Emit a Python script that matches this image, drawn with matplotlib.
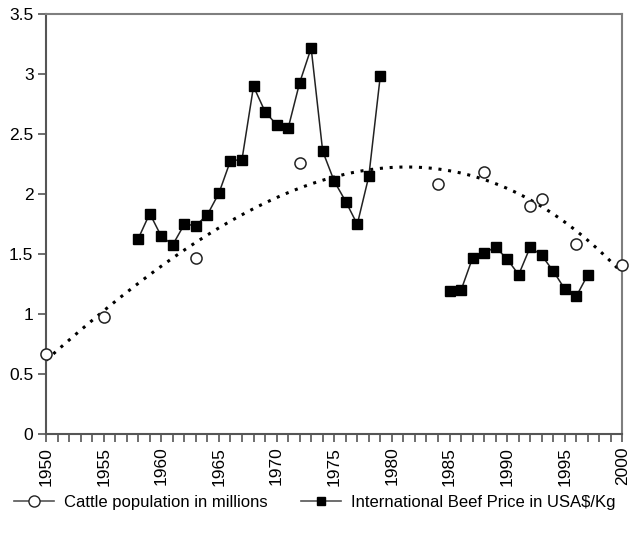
import numpy as np
import matplotlib
matplotlib.use("Agg")
from matplotlib import pyplot as plt

# Cattle population (millions)
cattle_years = [1950, 1955, 1963, 1972, 1984, 1988, 1992, 1993, 1996, 2000]
cattle_values = [0.67, 0.98, 1.47, 2.26, 2.09, 2.19, 1.90, 1.96, 1.59, 1.41]

# International beef price (USA$/Kg), two separate periods
price_years_a = list(range(1958, 1980))
price_values_a = [1.63, 1.84, 1.65, 1.58, 1.75, 1.74, 1.83, 2.01, 2.28, 2.29,
                  2.90, 2.69, 2.58, 2.55, 2.93, 3.22, 2.36, 2.11, 1.94, 1.75,
                  2.15, 2.99]
price_years_b = list(range(1985, 1998))
price_values_b = [1.19, 1.20, 1.47, 1.51, 1.56, 1.46, 1.33, 1.56, 1.49, 1.36,
                  1.21, 1.15, 1.33]

plt.rcParams['font.family'] = ['Liberation Sans', 'DejaVu Sans']
fig = plt.figure(figsize=(6.3, 5.36), dpi=100)
ax = fig.add_axes([0.073, 0.19, 0.915, 0.783])

grey = '#7f7f7f'

# polynomial trendline through the cattle points
coef = np.polyfit(cattle_years, cattle_values, 3)
xs = np.linspace(1950, 2000, 300)
ax.plot(xs, np.polyval(coef, xs), color='black', lw=2.2, linestyle=(0, (1, 2.2)), zorder=2)

ax.plot(cattle_years, cattle_values, linestyle='none', marker='o', ms=8,
        mfc='white', mec='#222222', mew=1.1, zorder=3, clip_on=False)

ax.plot(price_years_a, price_values_a, color='#222222', lw=1.1, marker='s', ms=6.5,
        mfc='black', mec='black', zorder=4)
ax.plot(price_years_b, price_values_b, color='#222222', lw=1.1, marker='s', ms=6.5,
        mfc='black', mec='black', zorder=4)

ax.set_xlim(1950, 2000)
ax.set_ylim(0, 3.5)
ax.set_xticks(range(1950, 2001, 5))
ax.set_xticks(range(1950, 2001), minor=True)
ax.set_yticks(np.arange(0, 3.51, 0.5))
ax.set_yticklabels(['0', '0.5', '1', '1.5', '2', '2.5', '3', '3.5'])
ax.tick_params(axis='x', which='both', direction='out', length=6, width=1.2,
               color='#555555', labelrotation=90, labelsize=12.5, pad=3)
ax.tick_params(axis='y', direction='out', length=6, width=1.2, color='#555555',
               labelsize=12.5, pad=3)

for s in ax.spines.values():
    s.set_color(grey)
    s.set_linewidth(1.5)
ax.spines['left'].set_color('#555555')
ax.spines['bottom'].set_color('#555555')

# legend at the bottom
h1, = ax.plot([], [], color='#555555', lw=1.2, marker='o', ms=8, mfc='white', mec='#222222')
h2, = ax.plot([], [], color='#555555', lw=1.2, marker='s', ms=6, mfc='black', mec='black')
fig.legend([h1, h2], ['Cattle population in millions', 'International Beef Price in USA$/Kg'],
           loc='center', bbox_to_anchor=(0.5, 0.062), ncol=2, frameon=False,
           fontsize=12, handlelength=2.4, handletextpad=0.6, columnspacing=2.0)

fig.savefig('out.png', dpi=100)
